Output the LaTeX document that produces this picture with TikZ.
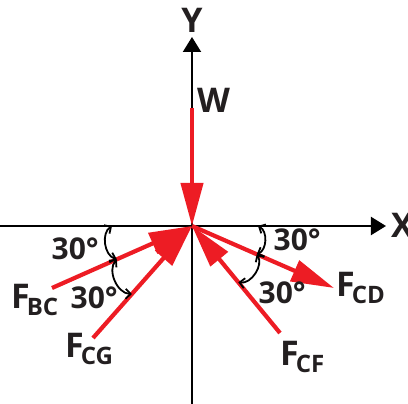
\documentclass[tikz,border=0pt]{standalone}
\usepackage{fontspec}
\setmainfont{Open Sans}
\usetikzlibrary{arrows.meta,calc}
\definecolor{forcered}{RGB}{237,28,36}
\definecolor{ink}{RGB}{35,31,32}
\newcommand{\Fsub}[1]{F\kern-3pt\raisebox{-7pt}{\fontsize{24}{24}\selectfont #1}}

\begin{document}
\begin{tikzpicture}[x=1pt,y=1pt,
  axis/.style={line width=2pt,-{Triangle[length=15pt,width=18pt]}},
  force/.style={forcered,line width=4.2pt,-{Triangle[length=43pt,width=22pt]}},
  angarc/.style={line width=1.8pt,{Straight Barb[length=5pt,width=10pt]}-{Straight Barb[length=5pt,width=10pt]}},
  lbl/.style={inner sep=0pt,anchor=base west,text=ink,font=\bfseries\fontsize{34}{34}\selectfont},
  deg/.style={inner sep=0pt,anchor=base west,text=ink,font=\bfseries\fontsize{30}{30}\selectfont}]
\useasboundingbox (-192,-178) rectangle (216,226);

\coordinate (C) at (0,0);
\coordinate (xl) at (-192,0);
\coordinate (xr) at (194,0);
\coordinate (yb) at (0,-178);
\coordinate (yt) at (0,189);
\draw[axis] (xl) -- (xr);
\draw[axis] (yb) -- (yt);
\node[lbl] (X) at (199,-12) {X};
\node[lbl,anchor=base] (Y) at (0,193) {Y};

\coordinate (w) at (0,118);
\coordinate (bc) at (-140,-62);
\coordinate (cg) at (-99,-112);
\coordinate (cd) at (142,-62);
\coordinate (cf) at (88,-107);
\draw[force] (w) -- (C);
\draw[force] (bc) -- (C);
\draw[force] (cg) -- (C);
\draw[force] (cf) -- (C);
\draw[force] (C) -- (cd);

\node[lbl] (W) at (5,113) {W};
\node[lbl] (Fbc) at (-181,-83) {\Fsub{BC}};
\node[lbl] (Fcg) at (-127,-132) {\Fsub{CG}};
\node[lbl] (Fcd) at (144,-71) {\Fsub{CD}};
\node[lbl] (Fcf) at (88,-140) {\Fsub{CF}};

\coordinate (a1) at (-80,0);
\coordinate (a2) at ($(C)!0.537!(bc)$);
\coordinate (a3) at ($(C)!0.607!(cg)$);
\coordinate (a4) at (66,0);
\coordinate (a5) at ($(C)!0.456!(cd)$);
\coordinate (a6) at ($(C)!0.526!(cf)$);
\draw[angarc] (a1) to[bend right=65] (a2);
\draw[angarc] (a2) to[bend right=65] (a3);
\draw[angarc] (a4) to[bend left=65] (a5);
\draw[angarc] (a5) to[bend left=65] (a6);

\node[deg] (d1) at (-140.5,-34) {30°};
\node[deg] (d2) at (-121.5,-83) {30°};
\node[deg] (d3) at (81.5,-25) {30°};
\node[deg] (d4) at (66.5,-78) {30°};
\end{tikzpicture}
\end{document}
